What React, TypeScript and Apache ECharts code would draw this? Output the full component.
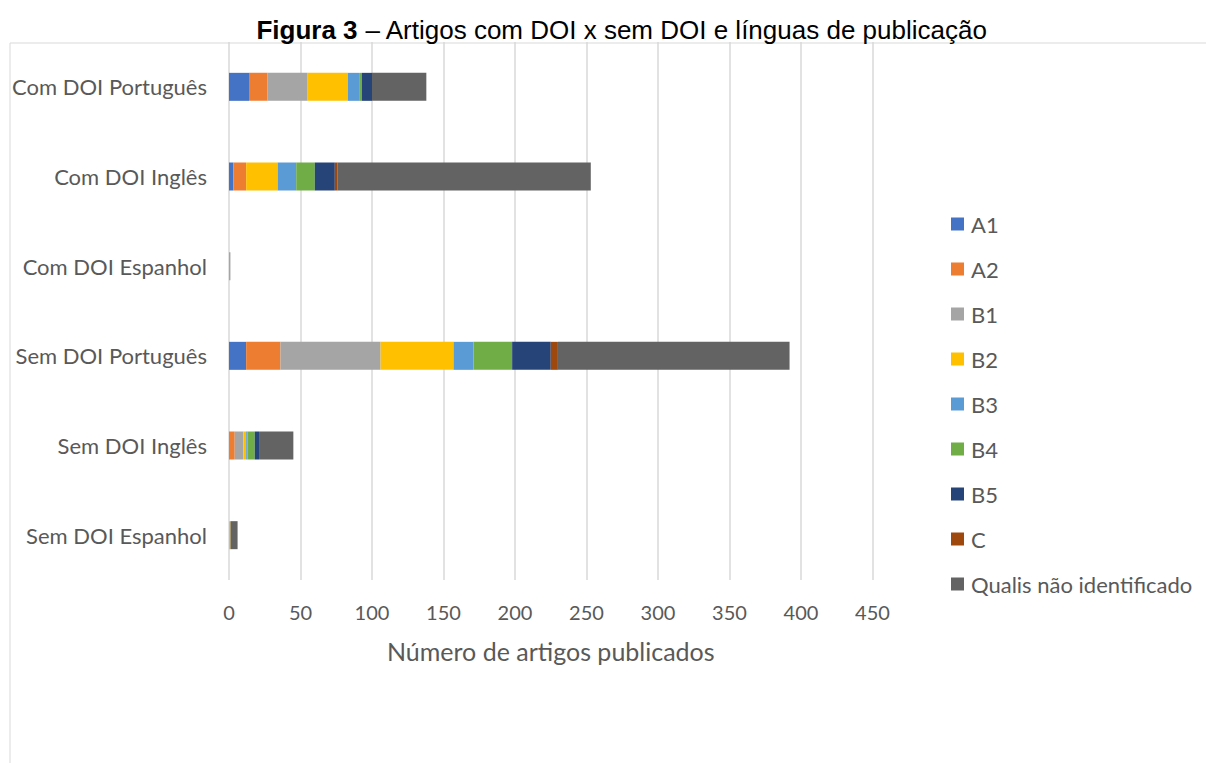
import React, { useEffect, useRef } from "react";
import * as echarts from "echarts";

const categories = [
  "Com DOI Português",
  "Com DOI Inglês",
  "Com DOI Espanhol",
  "Sem DOI Português",
  "Sem DOI Inglês",
  "Sem DOI Espanhol",
];
const seriesNames = ["A1", "A2", "B1", "B2", "B3", "B4", "B5", "C", "Qualis não identificado"];
const A1 = [14, 3, 0, 12, 0, 0];
const A2 = [13, 9, 0, 24, 4, 0];
const B1 = [28, 0, 1, 70, 6, 0];
const B2 = [28, 22, 0, 51, 2, 1];
const B3 = [8, 13, 0, 14, 1, 0];
const B4 = [2, 13, 0, 27, 5, 0];
const B5 = [7, 14, 0, 27, 3, 0];
const C = [0, 2, 0, 5, 0, 0];
const QNI = [38, 177, 0, 162, 24, 5];
const seriesValues = [A1, A2, B1, B2, B3, B4, B5, C, QNI];
const colors = ["#4472C4", "#ED7D31", "#A5A5A5", "#FFC000", "#5B9BD5", "#70AD47", "#264478", "#9E480E", "#636363"];
const xTicks = [0, 50, 100, 150, 200, 250, 300, 350, 400, 450];

export default function App() {
  const ref = useRef<HTMLDivElement>(null);
  useEffect(() => {
    document.body.style.margin = "0";
    const chart = echarts.init(ref.current!, null, { renderer: "svg" });
    chart.setOption({
      animation: false,
      backgroundColor: "#ffffff",
      title: {
        text: "{b|Figura 3} – Artigos com DOI x sem DOI e línguas de publicação",
        left: 617,
        textAlign: "center",
        top: 12,
        textStyle: {
          fontFamily: "Liberation Sans",
          fontSize: 26,
          fontWeight: "normal",
          color: "#000000",
          rich: {
            b: { fontFamily: "Liberation Sans", fontSize: 26, fontWeight: "bold", color: "#000000" },
          },
        },
      },
      graphic: [
        { type: "line", shape: { x1: 10, y1: 43, x2: 1206, y2: 43 }, style: { stroke: "#d9d9d9", lineWidth: 1 } },
        { type: "line", shape: { x1: 10, y1: 43, x2: 10, y2: 763 }, style: { stroke: "#d9d9d9", lineWidth: 1 } },
      ],
      legend: {
        orient: "vertical",
        left: 946,
        top: 208,
        itemWidth: 13,
        itemHeight: 13,
        itemGap: 23,
        icon: "rect",
        data: seriesNames,
        textStyle: { fontFamily: "Lato", fontSize: 22, color: "#595959", lineHeight: 22, padding: [0, 0, 0, 2] },
      },
      grid: { left: 229, right: 1206 - 872.5, top: 42, bottom: 763 - 580, containLabel: false },
      xAxis: {
        type: "value",
        min: 0,
        max: 450,
        interval: 50,
        axisLine: { show: false },
        axisTick: { show: false },
        splitLine: { show: true, lineStyle: { color: "#d9d9d9", width: 1.5 } },
        axisLabel: {
          fontFamily: "Lato",
          fontSize: 20,
          color: "#595959",
          margin: 22,
          formatter: (v: number) => (xTicks.includes(v) ? String(v) : ""),
        },
        name: "Número de artigos publicados",
        nameLocation: "middle",
        nameGap: 58,
        nameTextStyle: { fontFamily: "Lato", fontSize: 25, color: "#595959" },
      },
      yAxis: {
        type: "category",
        data: categories,
        inverse: true,
        axisLine: { show: false },
        axisTick: { show: false },
        axisLabel: { fontFamily: "Lato", fontSize: 22, color: "#595959", margin: 22 },
      },
      series: seriesNames.map((name, i) => ({
        name,
        type: "bar",
        stack: "total",
        barWidth: 28,
        data: seriesValues[i],
        itemStyle: { color: colors[i] },
      })),
    });
    return () => chart.dispose();
  }, []);
  return <div ref={ref} style={{ width: 1206, height: 763, position: "absolute", left: 0, top: 0 }} />;
}
